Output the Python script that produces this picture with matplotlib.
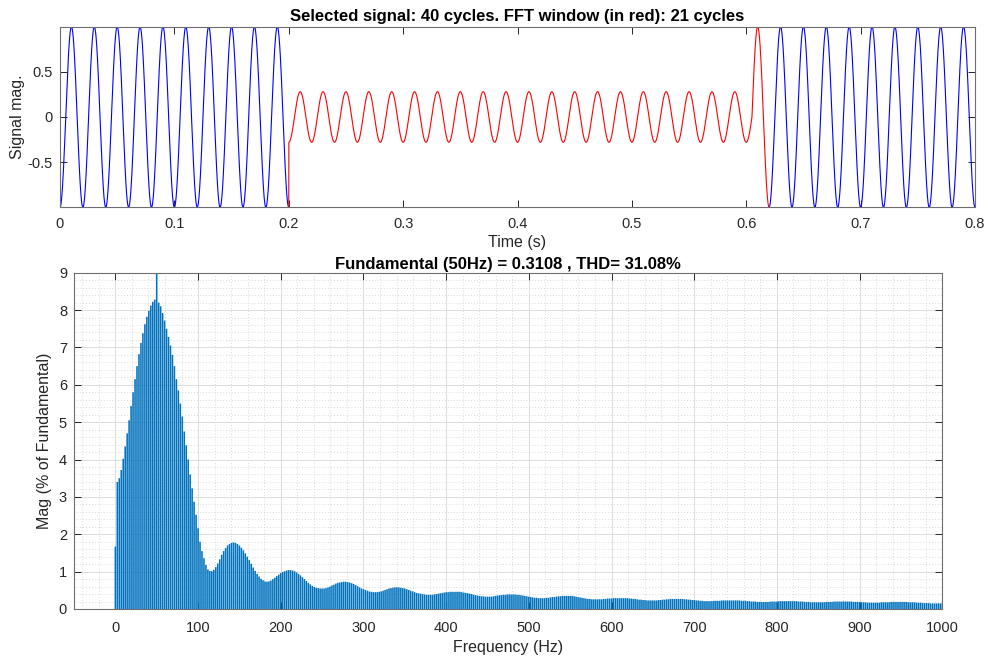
import numpy as np
import matplotlib
matplotlib.use("Agg")
import matplotlib.pyplot as plt
from matplotlib.ticker import MultipleLocator


# signal
sig_freq = 50.0                      # Hz
sig_switch = [0.2, 0.605]            # amplitude changes (s)
sig_amps = [1.0, 0.28, 1.0]          # amplitude before / inside / after
win_start, win_end = 0.2, 0.62       # FFT window shown in red
t_end = 0.8

# spectrum, one value per FFT bin (50/21 Hz apart), % of fundamental
freq_step = 50.0 / 21
mag = [
    # 0 - 47.6 Hz
    1.67, 3.40, 3.50, 3.72, 4.02, 4.35, 4.70, 5.05, 5.43, 5.80, 6.15, 6.50, 6.82, 7.12, 7.38, 7.62, 7.82, 7.98, 8.12, 8.22, 8.28,
    # 50 - 97.6
    100.0, 8.20, 8.10, 7.92, 7.72, 7.50, 7.28, 7.05, 6.80, 6.50, 6.15, 5.85, 5.50, 5.15, 4.75, 4.38, 4.00, 3.60, 3.23, 2.87, 2.52,
    # 100 - 147.6
    2.16, 1.80, 1.55, 1.36, 1.18, 1.06, 1.02, 1.01, 1.05, 1.12, 1.22, 1.33, 1.45, 1.55, 1.63, 1.70, 1.74, 1.77, 1.78, 1.77, 1.74,
    # 150 - 197.6
    1.70, 1.64, 1.57, 1.49, 1.40, 1.31, 1.21, 1.11, 1.02, 0.94, 0.87, 0.81, 0.77, 0.74, 0.73, 0.74, 0.76, 0.80, 0.84, 0.88, 0.92,
    # 200 - 247.6
    0.96, 0.99, 1.01, 1.03, 1.04, 1.04, 1.03, 1.01, 0.98, 0.94, 0.90, 0.85, 0.80, 0.75, 0.70, 0.66, 0.62, 0.59, 0.57, 0.56, 0.55,
    # 250 - 297.6
    0.55, 0.55, 0.56, 0.58, 0.60, 0.63, 0.65, 0.68, 0.70, 0.71, 0.72, 0.73, 0.73, 0.72, 0.71, 0.69, 0.67, 0.64, 0.61, 0.58, 0.55,
    # 300 - 347.6
    0.53, 0.51, 0.49, 0.47, 0.46, 0.45, 0.45, 0.45, 0.46, 0.47, 0.49, 0.51, 0.53, 0.55, 0.56, 0.57, 0.58, 0.58, 0.58, 0.57, 0.56,
    # 350 - 397.6
    0.55, 0.53, 0.51, 0.49, 0.47, 0.45, 0.43, 0.42, 0.41, 0.40, 0.39, 0.38, 0.38, 0.38, 0.38, 0.39, 0.40, 0.41, 0.42, 0.43, 0.44,
    # 400 - 447.6
    0.45, 0.45, 0.46, 0.46, 0.46, 0.46, 0.46, 0.46, 0.45, 0.44, 0.43, 0.42, 0.41, 0.40, 0.38, 0.37, 0.36, 0.35, 0.34, 0.34, 0.33,
    # 450 - 497.6
    0.33, 0.33, 0.33, 0.34, 0.35, 0.36, 0.37, 0.37, 0.38, 0.38, 0.39, 0.39, 0.39, 0.39, 0.39, 0.38, 0.38, 0.37, 0.36, 0.35, 0.34,
    # 500 - 547.6
    0.33, 0.32, 0.31, 0.30, 0.30, 0.29, 0.29, 0.29, 0.29, 0.30, 0.30, 0.31, 0.32, 0.32, 0.33, 0.34, 0.34, 0.35, 0.35, 0.35, 0.35,
    # 550 - 597.6
    0.35, 0.35, 0.34, 0.33, 0.32, 0.31, 0.30, 0.29, 0.28, 0.27, 0.27, 0.26, 0.26, 0.26, 0.26, 0.26, 0.26, 0.27, 0.27, 0.28, 0.28,
    # 600 - 647.6
    0.28, 0.29, 0.29, 0.29, 0.29, 0.29, 0.29, 0.29, 0.29, 0.28, 0.28, 0.27, 0.27, 0.26, 0.25, 0.25, 0.24, 0.24, 0.23, 0.23, 0.23,
    # 650 - 697.6
    0.23, 0.23, 0.23, 0.24, 0.24, 0.25, 0.25, 0.26, 0.26, 0.27, 0.27, 0.27, 0.27, 0.27, 0.27, 0.27, 0.26, 0.26, 0.25, 0.25, 0.24,
    # 700 - 747.6
    0.24, 0.23, 0.23, 0.22, 0.22, 0.21, 0.21, 0.21, 0.21, 0.21, 0.22, 0.22, 0.22, 0.22, 0.23, 0.23, 0.23, 0.23, 0.23, 0.23, 0.23,
    # 750 - 797.6
    0.23, 0.23, 0.23, 0.22, 0.22, 0.22, 0.21, 0.21, 0.20, 0.20, 0.20, 0.19, 0.19, 0.19, 0.19, 0.19, 0.19, 0.19, 0.20, 0.20, 0.20,
    # 800 - 847.6
    0.20, 0.21, 0.21, 0.21, 0.21, 0.21, 0.21, 0.21, 0.21, 0.21, 0.21, 0.20, 0.20, 0.20, 0.19, 0.19, 0.19, 0.18, 0.18, 0.18, 0.18,
    # 850 - 897.6
    0.18, 0.18, 0.18, 0.18, 0.19, 0.19, 0.19, 0.19, 0.20, 0.20, 0.20, 0.20, 0.20, 0.20, 0.20, 0.20, 0.20, 0.20, 0.19, 0.19, 0.19,
    # 900 - 947.6
    0.19, 0.18, 0.18, 0.18, 0.17, 0.17, 0.17, 0.17, 0.17, 0.17, 0.17, 0.18, 0.18, 0.18, 0.18, 0.18, 0.19, 0.19, 0.19, 0.19, 0.19,
    # 950 - 1000
    0.19, 0.19, 0.19, 0.19, 0.18, 0.18, 0.18, 0.18, 0.17, 0.17, 0.17, 0.16, 0.16, 0.16, 0.16, 0.15, 0.15, 0.15, 0.15, 0.15, 0.15, 0.15,
]

title_top = "Selected signal: 40 cycles. FFT window (in red): 21 cycles"
title_bot = "Fundamental (50Hz) = 0.3108 , THD= 31.08%"

plt.rcParams['font.family'] = ['Liberation Sans', 'DejaVu Sans']
plt.rcParams['axes.unicode_minus'] = False
plt.rcParams['font.size'] = 10

axcol = '#262626'


def style_axes(ax, xpad):
	for s in ax.spines.values():
		s.set_color('#6e6e6e')
		s.set_linewidth(0.8)
	ax.tick_params(which='both', direction='in', top=True, right=True, colors=axcol, labelsize=10.5)
	ax.tick_params(which='major', length=5, width=0.7)
	ax.tick_params(axis='x', pad=xpad)
	ax.tick_params(axis='y', pad=5)


fig = plt.figure(figsize=(9.89, 6.59), dpi=100)

# --- top: time signal ---
ax1 = fig.add_axes([60 / 989, 1 - 207.3 / 659, 915 / 989, 180.6 / 659])
n = int(round(t_end * 10000))
t = np.arange(n + 1) / 10000.0
amp = np.where(t <= sig_switch[0] + 1e-9, sig_amps[0],
	np.where(t < sig_switch[1] - 1e-9, sig_amps[1], sig_amps[2]))
y = -amp * np.cos(2 * np.pi * sig_freq * t)
i0 = int(round(win_start * 10000))
i1 = int(round(win_end * 10000))
ax1.plot(t[:i0 + 1], y[:i0 + 1], color='#0000ff', lw=0.8)
ax1.plot(t[i1:], y[i1:], color='#0000ff', lw=0.8)
ax1.plot(t[i0:i1 + 1], y[i0:i1 + 1], color='#ff0000', lw=0.8)
ax1.set_xlim(0, t_end)
ax1.set_ylim(-1, 1)
ax1.set_xticks(np.arange(0, 0.81, 0.1))
ax1.set_xticklabels(['0', '0.1', '0.2', '0.3', '0.4', '0.5', '0.6', '0.7', '0.8'])
ax1.set_yticks([-0.5, 0, 0.5])
ax1.set_yticklabels(['-0.5', '0', '0.5'])
style_axes(ax1, 7)
ax1.set_title(title_top, fontsize=12, fontweight='bold', color='black', pad=4)
ax1.set_xlabel("Time (s)", fontsize=11.5, color=axcol, labelpad=3)
ax1.set_ylabel("Signal mag.", fontsize=11.5, color=axcol, labelpad=2)

# --- bottom: spectrum ---
ax2 = fig.add_axes([74 / 989, 1 - 609 / 659, 868.3 / 989, 336.3 / 659])
freqs = np.arange(len(mag)) * freq_step
bars = ax2.bar(freqs, mag, width=0.8 * freq_step, color='#0072BD', linewidth=0, zorder=2)
for b in bars:
	b.set_snap(False)
ax2.set_xlim(-50, 1000)
ax2.set_ylim(0, 9)
ax2.set_xticks(np.arange(0, 1001, 100))
ax2.set_yticks(np.arange(0, 10, 1))
ax2.xaxis.set_minor_locator(MultipleLocator(20))
ax2.yaxis.set_minor_locator(MultipleLocator(0.2))
ax2.grid(which='major', color='#dcdcdc', lw=0.7, zorder=0)
ax2.grid(which='minor', color='#cfcfcf', lw=0.6, ls=(0, (1, 2.5)), zorder=0)
ax2.set_axisbelow(True)
style_axes(ax2, 9)
ax2.tick_params(which='minor', length=0)
ax2.set_title(title_bot, fontsize=12, fontweight='bold', color='black', pad=3)
ax2.set_xlabel("Frequency (Hz)", fontsize=11.5, color=axcol, labelpad=3)
ax2.set_ylabel("Mag (% of Fundamental)", fontsize=11.5, color=axcol, labelpad=5)

fig.savefig("out.png", dpi=100)
